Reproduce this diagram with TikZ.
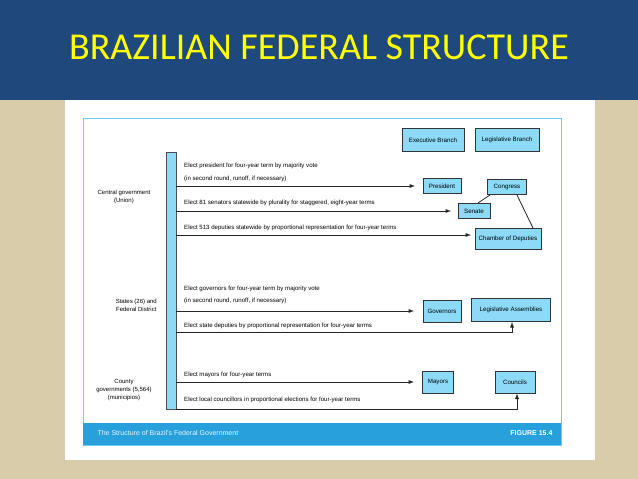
\documentclass[tikz,border=0pt]{standalone}
\usepackage{fontspec}
\setmainfont{Liberation Sans}
\newfontfamily\titlefont{Carlito}
\begin{document}
\begin{tikzpicture}[x=1pt,y=-1pt,
  box/.style={draw=black!80,fill=cyan!45!white,line width=1pt,inner sep=0pt,font=\fontsize{6.2}{7}\selectfont},
  lbl/.style={font=\fontsize{6.1}{7}\selectfont,anchor=west,inner sep=0pt},
  side/.style={font=\fontsize{6}{8}\selectfont,align=center,inner sep=0pt},
  arr/.style={-latex,line width=0.9pt,black!85},
  ln/.style={line width=0.8pt,black!85}]
\useasboundingbox (0,0) rectangle (638,479);
\fill[fill={rgb,255:red,216;green,204;blue,170}] (0,0) rectangle (638,479);
\fill[fill={rgb,255:red,31;green,73;blue,125}] (0,0) rectangle (638,100);
\node[font=\titlefont\fontsize{38}{40}\selectfont,text={rgb,255:red,255;green,255;blue,0}] (title) at (319,47) {BRAZILIAN FEDERAL STRUCTURE};
\fill[white] (65,100) rectangle (595,460);
\draw[cyan!60,line width=1pt] (83,118) rectangle (561,445);
\fill[fill={rgb,255:red,40;green,160;blue,220}] (83,423) rectangle (561,445);
\node[font=\fontsize{7}{8}\selectfont,text=white!90!cyan,anchor=west] (foot) at (94,433) {The Structure of Brazil's Federal Government};
\node[font=\bfseries\fontsize{7}{8}\selectfont,text=white,anchor=east] (fig) at (556,433) {FIGURE 15.4};
% vertical bar
\node[draw=black!70,fill=cyan!45!white,minimum width=10pt,minimum height=257pt,inner sep=0pt,anchor=north west] (bar) at (166,152) {};
% boxes
\node[box,minimum width=62pt,minimum height=23pt] (exe) at (433,140) {Executive Branch};
\node[box,minimum width=64pt,minimum height=23pt] (leg) at (507,140) {Legislative Branch};
\node[box,minimum width=38pt,minimum height=15pt] (pres) at (442,186) {President};
\node[box,minimum width=39pt,minimum height=15pt] (cong) at (507,187) {Congress};
\node[box,minimum width=32pt,minimum height=15pt] (sen) at (474,211) {Senate};
\node[box,minimum width=66pt,minimum height=21pt] (cham) at (508,239) {Chamber of Deputies};
\node[box,minimum width=38pt,minimum height=22pt] (gov) at (442,311) {Governors};
\node[box,minimum width=79pt,minimum height=23pt] (la) at (511,310) {Legislative Assemblies};
\node[box,minimum width=31pt,minimum height=22pt] (may) at (438,382) {Mayors};
\node[box,minimum width=40pt,minimum height=22pt] (coun) at (515,382) {Councils};
\draw[ln] ([xshift=4pt]sen.north) -- ([xshift=3pt]cong.south west);
\draw[ln] ([xshift=10pt]cong.south) -- ([xshift=25pt]cham.north);
% side labels
\node[side] (cg) at (124,197) {Central government\\(Union)};
\node[side,anchor=east] (st) at (157,305) {States (26) and\\Federal District};
\node[side] (co) at (124,390) {County\\governments (5,564)\\(municipios)};
% texts
\node[lbl] (t1) at (184,166) {Elect president for four-year term by majority vote};
\node[lbl] (t2) at (184,179) {(in second round, runoff, if necessary)};
\node[lbl] (t3) at (184,203) {Elect 81 senators statewide by plurality for staggered, eight-year terms};
\node[lbl] (t4) at (184,228) {Elect 513 deputies statewide by proportional representation for four-year terms};
\node[lbl] (t5) at (184,289) {Elect governors for four-year term by majority vote};
\node[lbl] (t6) at (184,301) {(in second round, runoff, if necessary)};
\node[lbl] (t7) at (184,326) {Elect state deputies by proportional representation for four-year terms};
\node[lbl] (t8) at (184,375) {Elect mayors for four-year terms};
\node[lbl] (t9) at (184,400) {Elect local councillors in proportional elections for four-year terms};
% arrows
\coordinate (a1) at (176,186); \coordinate (a1e) at (415,186);
\coordinate (a2) at (176,211); \coordinate (a2e) at (451,211);
\coordinate (a3) at (176,235); \coordinate (a3e) at (471,235);
\coordinate (a4) at (176,311); \coordinate (a4e) at (414,311);
\coordinate (a5) at (176,332); \coordinate (a5c) at (512,332);
\coordinate (a6) at (176,382); \coordinate (a6e) at (414,382);
\coordinate (a7) at (176,409); \coordinate (a7c) at (517,409);
\draw[arr] (a1) -- (a1e);
\draw[arr] (a2) -- (a2e);
\draw[arr] (a3) -- (a3e);
\draw[arr] (a4) -- (a4e);
\draw[arr] (a5) -- (a5c) -- (a5c |- la.south);
\draw[arr] (a6) -- (a6e);
\draw[arr] (a7) -- (a7c) -- (a7c |- coun.south);
\end{tikzpicture}
\end{document}
